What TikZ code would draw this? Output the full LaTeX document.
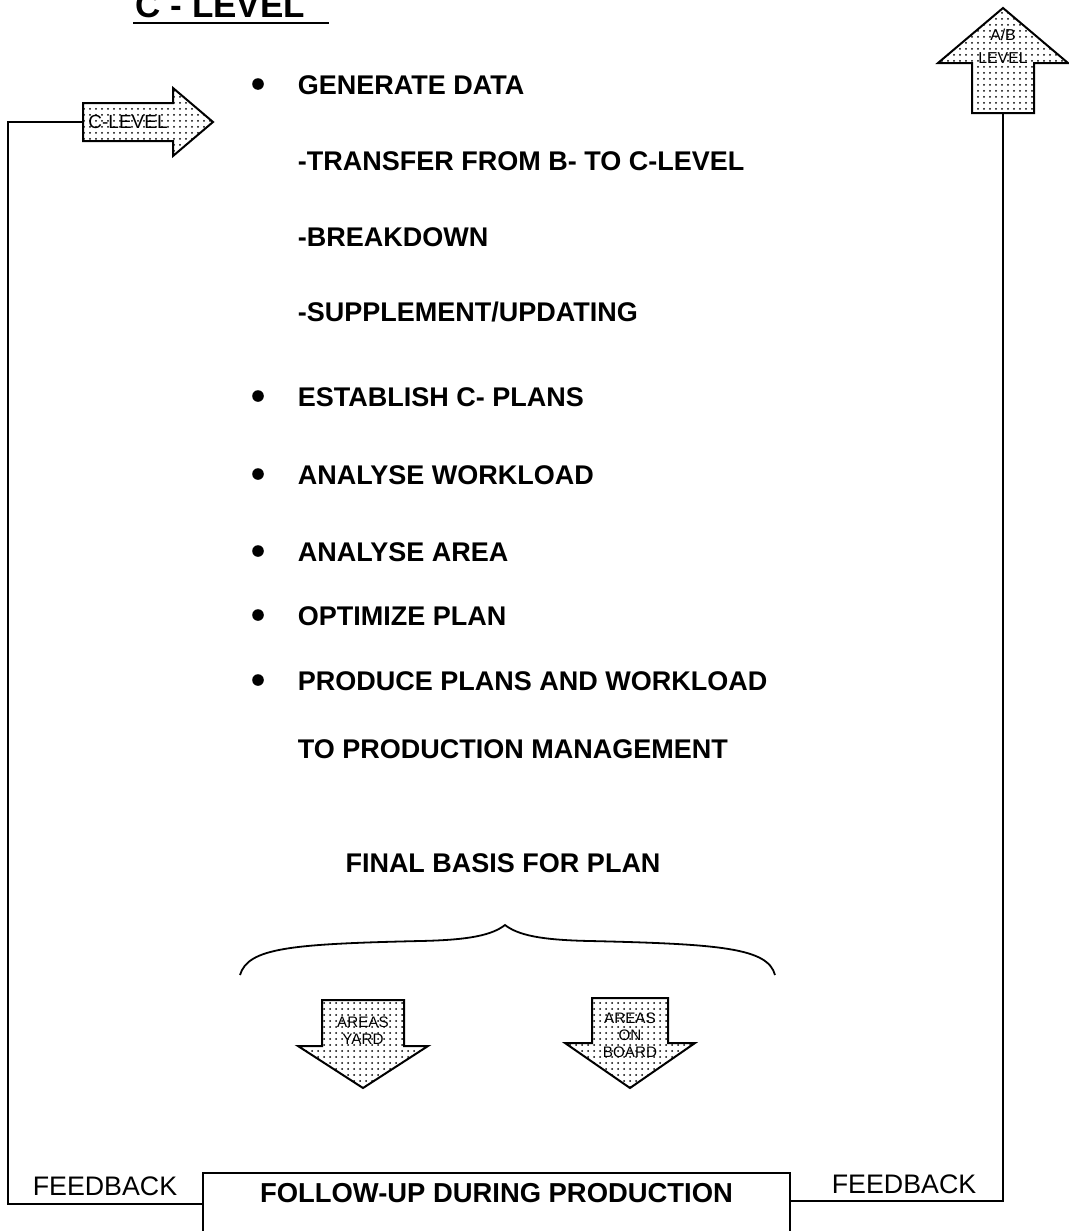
\documentclass[tikz,border=0pt]{standalone}
\usepackage{fontspec}
\setmainfont{Liberation Sans}
\usetikzlibrary{positioning,patterns,calc}

\tikzset{
  dotarrow/.style={draw, line width=1pt, line join=miter, fill=white, postaction={pattern=dots}},
  item/.style={anchor=base west, inner sep=0pt, font=\fontsize{13.5}{16}\selectfont\bfseries},
  bullet/.style={circle, fill, inner sep=0pt, minimum size=5.8pt},
  tag/.style={inner sep=0pt, align=center, font=\fontsize{7.6}{8.5}\selectfont},
  plain/.style={inner sep=0pt, font=\fontsize{13.4}{15}\selectfont},
}

\begin{document}
\begin{tikzpicture}[x=0.5pt, y=-0.5pt, line width=0.9pt]
\useasboundingbox (0,0) rectangle (1069,1231);

% heading
\node[anchor=base west, inner sep=0pt, font=\fontsize{17.5}{19}\selectfont\bfseries] (head) at (135,18) {C - LEVEL};
\draw (133,23) -- (329,23);

% arrows in and out
\draw[dotarrow] (83,103) -- (173,103) -- (173,88) -- (213,122) -- (173,156) -- (173,141) -- (83,141) -- cycle;
\coordinate (cin) at (83,122);
\node[tag, font=\fontsize{9.5}{10}\selectfont] (cl) at (128,122) {C-LEVEL};

\draw[dotarrow] (1003,8) -- (1068,63) -- (1034,63) -- (1034,113) -- (972,113) -- (972,63) -- (938,63) -- cycle;
\coordinate (about) at (1003,113);
\node[tag, font=\fontsize{7.9}{11.5}\selectfont] (ab) at (1003,46) {A/B\\LEVEL};

% tasks
\foreach \y/\t [count=\i] in {84/GENERATE DATA, 396/ESTABLISH C- PLANS, 474/ANALYSE WORKLOAD,
    551/ANALYSE AREA, 615/OPTIMIZE PLAN, 680/PRODUCE PLANS AND WORKLOAD} {
  \node[bullet] (b\i) at (258,\y) {};
  \node[item] (t\i) at (297,\y+10) {\t};
}
\node[item] (s1) at (297,170) {-TRANSFER FROM B- TO C-LEVEL};
\node[item] (s2) at (297,246) {-BREAKDOWN};
\node[item] (s3) at (297,321) {-SUPPLEMENT/UPDATING};
\node[item] (t7) at (297,758) {TO PRODUCTION MANAGEMENT};

\node[item, anchor=base] (basis) at (503,872) {FINAL BASIS FOR PLAN};

% brace
\draw (240,975) .. controls (248,948) and (290,944) .. (420,941)
  .. controls (470,940) and (492,935) .. (505,925)
  .. controls (518,935) and (540,940) .. (590,941)
  .. controls (720,944) and (768,948) .. (775,975);

% area arrows
\draw[dotarrow] (322,1000) -- (404,1000) -- (404,1046) -- (428,1046) -- (363,1088) -- (298,1046) -- (322,1046) -- cycle;
\node[tag] (yard) at (363,1031) {AREAS\\YARD};
\draw[dotarrow] (592,998) -- (668,998) -- (668,1043) -- (695,1043) -- (630,1088) -- (565,1043) -- (592,1043) -- cycle;
\node[tag] (board) at (630,1035) {AREAS\\ON\\BOARD};

% follow-up and feedback loops
\node[draw, anchor=north, minimum width=293.5pt, inner xsep=0pt, inner ysep=5pt,
      text height=10pt, text depth=20pt,
      font=\fontsize{13.7}{16}\selectfont\bfseries] (follow) at (496.5,1172) {FOLLOW-UP DURING PRODUCTION};
\node[plain] (fb1) at (105,1186) {FEEDBACK};
\node[plain] (fb2) at (904,1184) {FEEDBACK};
\coordinate (lc) at (8,122);
\coordinate (lf) at (8,1204);
\coordinate (rf) at (1003,1201);
\draw (cin) -- (lc) -- (lf) -- (lf -| follow.west);
\draw (rf -| follow.east) -- (rf) -- (about);
\end{tikzpicture}
\end{document}
